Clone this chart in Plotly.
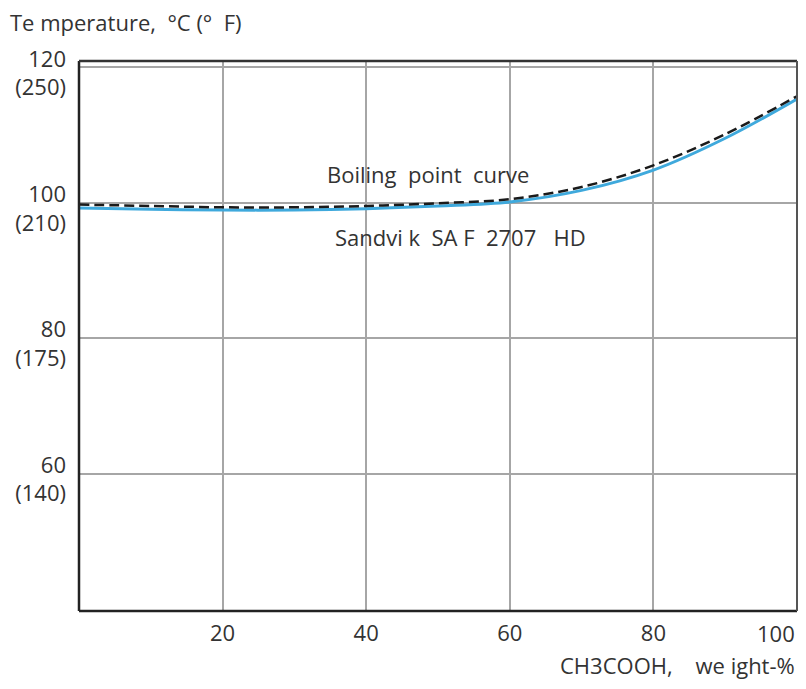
import plotly.graph_objects as go

concentration = [0, 10, 20, 30, 40, 50, 60, 70, 80, 90, 100]
boiling_point = [99.7, 99.5, 99.3, 99.3, 99.5, 99.9, 100.5, 102.3, 105.5, 110.1, 115.7]
saf2707hd = [99.2, 99.0, 98.9, 98.9, 99.1, 99.5, 100.1, 101.8, 104.8, 109.5, 115.3]

y_tickvals = [60, 80, 100, 120]
y_ticktext = ["60<br>(140)", "80<br>(175)", "100<br>(210)", "120<br>(250)"]
x_tickvals = [20, 40, 60, 80, 100]
# the last label sits against the right frame; it is drawn as a right-anchored annotation
x_ticktext = [str(v) for v in x_tickvals[:-1]] + [""]

FONT = "Open Sans"
TXT = "#333333"
FS = 22

# the page body adds an 8px offset; figure is sized so the plot frame
# lands at x 79..797, y 61..611 in the final picture without overflow
W, H = 798, 681
ML, MT = 71, 53
PW, PH = 718, 550
MR, MB = W - ML - PW, H - MT - PH

fig = go.Figure()
fig.add_trace(go.Scatter(x=concentration, y=saf2707hd, mode="lines",
                         line=dict(color="#3fa9dc", width=3, shape="spline"),
                         showlegend=False))
fig.add_trace(go.Scatter(x=concentration, y=boiling_point, mode="lines",
                         line=dict(color="#1a1a1a", width=2.5, dash="10px,5px", shape="spline"),
                         showlegend=False))

fig.update_layout(
    width=W, height=H,
    margin=dict(l=ML, r=MR, t=MT, b=MB),
    paper_bgcolor="white", plot_bgcolor="white",
    font=dict(family=FONT, size=FS, color=TXT),
    xaxis=dict(range=[0, 100], tickvals=x_tickvals, ticktext=x_ticktext, showgrid=True,
               gridcolor="#a6a6a6", gridwidth=1.5, automargin=False, ticklabeloverflow="allow",
               zeroline=False, showline=False, ticks="", ticklabelstandoff=7,
               tickfont=dict(size=FS, color=TXT)),
    yaxis=dict(range=[39.7, 120.9], tickvals=y_tickvals, ticktext=y_ticktext, showgrid=True,
               gridcolor="#a6a6a6", gridwidth=1.5, zeroline=False, showline=False, ticks="",
               automargin=False, ticklabeloverflow="allow", ticklabelstandoff=12,
               ticklabelshift=6, tickfont=dict(size=FS, color=TXT)),
    shapes=[
        dict(type="line", xref="paper", yref="paper", x0=0, x1=1, y0=0, y1=0, line=dict(color="#222222", width=2.5)),
        dict(type="line", xref="paper", yref="paper", x0=0, x1=0, y0=0, y1=1, line=dict(color="#222222", width=2.5)),
        dict(type="line", xref="paper", yref="paper", x0=0, x1=1, y0=1, y1=1, line=dict(color="#333333", width=2.5)),
        dict(type="line", xref="paper", yref="paper", x0=1, x1=1, y0=0, y1=1, line=dict(color="#555555", width=2)),
    ],
    annotations=[
        dict(text=str(x_tickvals[-1]), xref="x", yref="paper", x=x_tickvals[-1], y=-22 / PH,
             xanchor="right", yanchor="middle", showarrow=False, font=dict(size=FS, color=TXT)),
        dict(text="Te mperature,  °C (°  F)", xref="paper", yref="paper", x=-ML / PW, y=1 + 39 / PH,
             xanchor="left", yanchor="middle", showarrow=False, font=dict(size=FS, color=TXT)),
        dict(text="CH3COOH,    we ight-%", xref="paper", yref="paper", x=1, y=-54 / PH,
             xanchor="right", yanchor="middle", showarrow=False, font=dict(size=FS, color=TXT)),
        dict(text="Boiling  point  curve", x=48.6, y=104.2, xanchor="center", yanchor="middle",
             showarrow=False, font=dict(size=FS, color=TXT)),
        dict(text="Sandvi k  SA F  2707   HD", x=53.1, y=94.9, xanchor="center", yanchor="middle",
             showarrow=False, font=dict(size=FS, color=TXT)),
    ],
)

fig.write_html("out.html")
